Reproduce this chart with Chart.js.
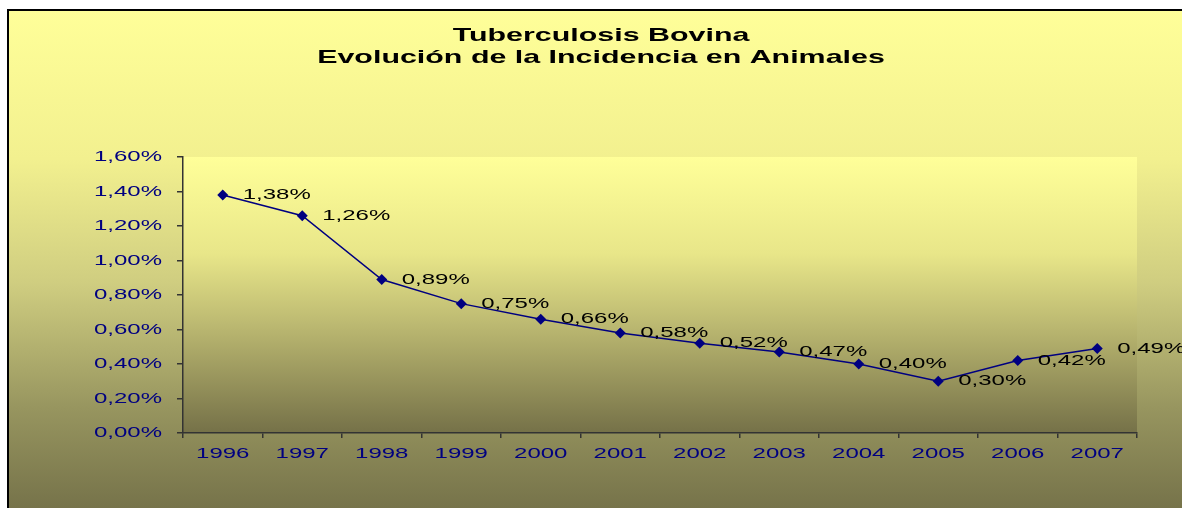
<!DOCTYPE html>
<html>
<head>
<meta charset="utf-8">
<script src="https://cdn.jsdelivr.net/npm/chart.js@4/dist/chart.umd.min.js"></script>
<style>
  html, body { margin: 0; padding: 0; background: #fff; }
  #wrap { width: 1182px; height: 508px; }
</style>
</head>
<body>
<div id="wrap"><canvas id="chart" width="1182" height="508"></canvas></div>
<script>
// Dados
const anos = ['1996', '1997', '1998', '1999', '2000', '2001', '2002', '2003', '2004', '2005', '2006', '2007'];
const incidencia = [1.38, 1.26, 0.89, 0.75, 0.66, 0.58, 0.52, 0.47, 0.40, 0.30, 0.42, 0.49];
const yTicks = [0, 0.2, 0.4, 0.6, 0.8, 1.0, 1.2, 1.4, 1.6];
const titulo = ['Tuberculosis Bovina', 'Evolución de la Incidencia en Animales'];

const fmt = v => v.toFixed(2).replace('.', ',') + '%';
const navy = '#000080';
const fontFam = '"Liberation Sans", Arial, sans-serif';

// O original tem o texto esticado na horizontal (~1.6x)
const SX = 1.6;
const canvas = document.getElementById('chart');
const ctx2d = canvas.getContext('2d');
const origFill = ctx2d.fillText.bind(ctx2d);
const origMeasure = ctx2d.measureText.bind(ctx2d);
ctx2d.fillText = function (text, x, y, maxW) {
  this.save();
  this.translate(x, y);
  this.scale(SX, 1);
  if (maxW !== undefined) origFill(text, 0, 0, maxW / SX);
  else origFill(text, 0, 0);
  this.restore();
};
ctx2d.measureText = function (text) {
  const m = origMeasure(text);
  return {
    width: m.width * SX,
    actualBoundingBoxLeft: m.actualBoundingBoxLeft * SX,
    actualBoundingBoxRight: m.actualBoundingBoxRight * SX,
    actualBoundingBoxAscent: m.actualBoundingBoxAscent,
    actualBoundingBoxDescent: m.actualBoundingBoxDescent,
    fontBoundingBoxAscent: m.fontBoundingBoxAscent,
    fontBoundingBoxDescent: m.fontBoundingBoxDescent
  };
};

// Fundo (área do gráfico + moldura)
const fundo = {
  id: 'fundo',
  beforeDraw(chart) {
    const { ctx, width, height, chartArea } = chart;
    ctx.save();
    ctx.fillStyle = '#fff';
    ctx.fillRect(0, 0, width, height);
    let g = ctx.createLinearGradient(0, 10, 0, height);
    g.addColorStop(0, '#FFFF99');
    g.addColorStop(0.3, '#F2F08F');
    g.addColorStop(0.55, '#CFCD80');
    g.addColorStop(0.8, '#97955F');
    g.addColorStop(1, '#76734A');
    ctx.fillStyle = g;
    ctx.fillRect(8, 10, width - 8, height - 10);
    ctx.strokeStyle = '#000';
    ctx.lineWidth = 2;
    ctx.beginPath();
    ctx.moveTo(8, height);
    ctx.lineTo(8, 10);
    ctx.lineTo(width, 10);
    ctx.stroke();

    const a = chartArea;
    g = ctx.createLinearGradient(0, a.top, 0, a.bottom);
    g.addColorStop(0, '#FFFF99');
    g.addColorStop(0.35, '#E8E689');
    g.addColorStop(0.6, '#BDBA72');
    g.addColorStop(1, '#757148');
    ctx.fillStyle = g;
    ctx.fillRect(a.left, a.top, a.right - a.left, a.bottom - a.top);
    ctx.restore();
  }
};

// Rótulos dos pontos
const rotulos = {
  id: 'rotulos',
  afterDatasetsDraw(chart) {
    const { ctx } = chart;
    const meta = chart.getDatasetMeta(0);
    ctx.save();
    ctx.font = '15px ' + fontFam;
    ctx.fillStyle = '#000';
    ctx.textAlign = 'left';
    ctx.textBaseline = 'middle';
    meta.data.forEach((pt, i) => {
      ctx.fillText(fmt(incidencia[i]), pt.x + 20, pt.y);
    });
    ctx.restore();
  }
};

new Chart(canvas, {
  type: 'line',
  data: {
    labels: anos,
    datasets: [{
      data: incidencia,
      borderColor: navy,
      borderWidth: 1.5,
      backgroundColor: navy,
      pointStyle: 'rectRot',
      pointRadius: 5.5,
      pointBorderWidth: 0,
      tension: 0
    }]
  },
  options: {
    responsive: false,
    animation: false,
    layout: { padding: { left: 65, right: 45, top: 0, bottom: 0 } },
    plugins: {
      legend: { display: false },
      tooltip: { enabled: false },
      title: {
        display: true,
        text: titulo,
        color: '#000',
        font: { family: fontFam, size: 19, weight: 'bold', lineHeight: 1.2 },
        padding: { top: 24, bottom: 87.4 }
      }
    },
    scales: {
      x: {
        offset: true,
        grid: { offset: true, drawOnChartArea: false, drawTicks: true, tickLength: 5, color: '#333', lineWidth: 1.5 },
        border: { display: true, color: '#333', width: 1.5 },
        ticks: { color: navy, font: { family: fontFam, size: 15 }, padding: 7, maxRotation: 0, autoSkip: false },
        afterFit: s => { s.height = 75; }
      },
      y: {
        min: 0,
        max: 1.6,
        afterBuildTicks: s => { s.ticks = yTicks.map(v => ({ value: v })); },
        grid: { drawOnChartArea: false, drawTicks: true, tickLength: 6, color: '#333', lineWidth: 1.5 },
        border: { display: true, color: '#333', width: 1.5 },
        ticks: { color: navy, font: { family: fontFam, size: 15 }, padding: 15, callback: v => fmt(v) },
        afterFit: s => { s.width = 118; }
      }
    }
  },
  plugins: [fundo, rotulos]
});
</script>
</body>
</html>
